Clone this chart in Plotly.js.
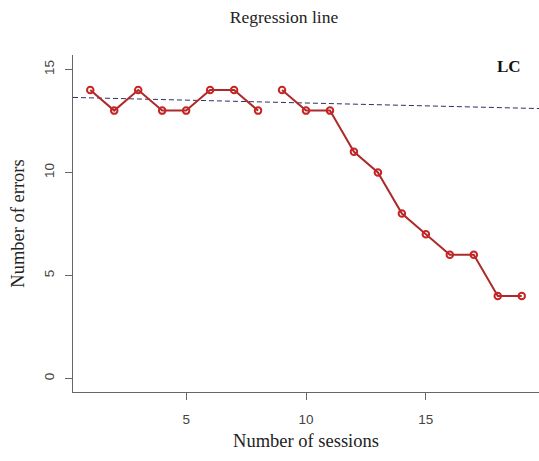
<!DOCTYPE html>
<html>
<head>
<meta charset="utf-8">
<script src="https://cdn.plot.ly/plotly-3.0.1.min.js"></script>
<style>
  html, body { margin: 0; padding: 0; background: #ffffff; }
  #chart { width: 539px; height: 461px; }
</style>
</head>
<body>
<div id="chart"></div>
<script>
// Baseline phase (sessions 1-8) and intervention phase (sessions 9-19)
const sessionsA = [1, 2, 3, 4, 5, 6, 7, 8];
const errorsA   = [14, 13, 14, 13, 13, 14, 14, 13];
const sessionsB = [9, 10, 11, 12, 13, 14, 15, 16, 17, 18, 19];
const errorsB   = [14, 13, 13, 11, 10, 8, 7, 6, 6, 4, 4];

// Fitted regression line, given by its two end points across the axis
const regX = [0.28, 19.72];
const regY = [13.64, 13.10];

const xTicks = [5, 10, 15];
const yTicks = [0, 5, 10, 15];

const lineColor = '#ad2a2a';
const markerColor = '#c82424';

const phaseStyle = {
  type: 'scatter',
  mode: 'lines+markers',
  line: { color: lineColor, width: 2 },
  marker: { symbol: 'circle-open', size: 6.5, color: markerColor, line: { width: 2, color: markerColor } },
  hoverinfo: 'x+y',
  showlegend: false
};

const traces = [
  {
    type: 'scatter', mode: 'lines', x: regX, y: regY,
    line: { color: '#2e3160', width: 1, dash: '5px,3px' },
    hoverinfo: 'skip', showlegend: false
  },
  Object.assign({ x: sessionsA, y: errorsA }, phaseStyle),
  Object.assign({ x: sessionsB, y: errorsB }, phaseStyle)
];

const tickFont = { family: 'Liberation Sans, Arial, sans-serif', size: 13.5, color: '#444444' };
const serif = 'Liberation Serif, Times New Roman, serif';

const layout = {
  width: 539,
  height: 461,
  margin: { l: 73, r: 0, t: 55, b: 69 },
  paper_bgcolor: '#ffffff',
  plot_bgcolor: '#ffffff',
  title: {
    text: 'Regression line',
    font: { family: serif, size: 17.5, color: '#222222' },
    x: 0.527, xanchor: 'center', y: 0.963, yanchor: 'middle'
  },
  xaxis: {
    range: [0.28, 19.72],
    tickvals: xTicks,
    ticktext: xTicks.map(String),
    showgrid: false, zeroline: false,
    showline: true, linecolor: '#666666', linewidth: 1,
    ticks: 'outside', ticklen: 7, tickcolor: '#666666', tickwidth: 1,
    tickfont: tickFont,
    ticklabelstandoff: 8,
    title: { text: 'Number of sessions', font: { family: serif, size: 18.5, color: '#222222' }, standoff: 7 }
  },
  yaxis: {
    range: [-0.66, 15.7],
    tickvals: yTicks,
    ticktext: yTicks.map(String),
    tickangle: -90,
    showgrid: false, zeroline: false,
    showline: true, linecolor: '#666666', linewidth: 1,
    ticks: 'outside', ticklen: 7, tickcolor: '#666666', tickwidth: 1,
    tickfont: tickFont,
    ticklabelstandoff: 6,
    title: { text: 'Number of errors', font: { family: serif, size: 18.5, color: '#222222' }, standoff: 12 }
  },
  annotations: [
    {
      text: '<b>LC</b>', xref: 'paper', yref: 'paper',
      x: 0.935, y: 0.965, xanchor: 'center', yanchor: 'middle',
      showarrow: false,
      font: { family: serif, size: 17, color: '#111111' }
    }
  ]
};

Plotly.newPlot('chart', traces, layout, { displayModeBar: false, staticPlot: true });
</script>
</body>
</html>
